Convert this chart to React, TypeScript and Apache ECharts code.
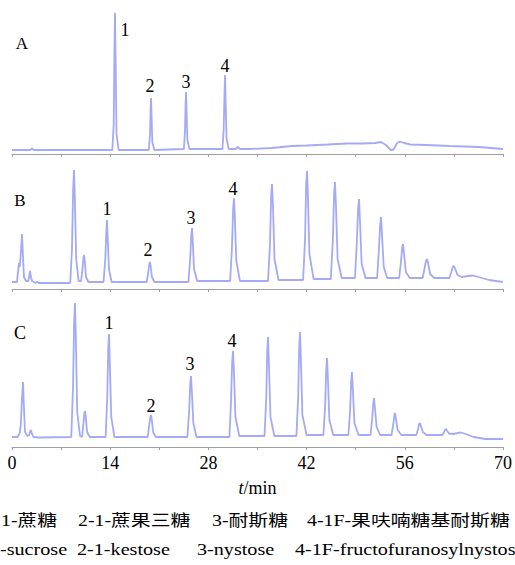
import React, { useEffect, useRef } from 'react';
import * as echarts from 'echarts';

// Retention time (min) vs detector signal (arbitrary units)
const panelA: [number, number][] = [
  [0, 4], [2.6, 4], [2.85, 5.5], [3.1, 4], [14.3, 4], [14.5, 30], [14.6, 100], [14.68, 141], [14.78, 90], [14.9, 20], [15.2, 4],
  [19.5, 4], [19.68, 20], [19.76, 45], [19.82, 56], [19.9, 38], [20.0, 12], [20.3, 4],
  [24.5, 5], [24.66, 22], [24.75, 50], [24.81, 62], [24.89, 42], [25.0, 14], [25.3, 5],
  [30.0, 5], [30.18, 25], [30.3, 62], [30.37, 79], [30.45, 55], [30.58, 16], [30.9, 5],
  [31.9, 5], [32.2, 7], [32.5, 5],
  [33.9, 5], [37, 6], [39.9, 8], [42, 8.5], [45, 9.5], [47.8, 10.5], [50, 10.5], [51.8, 11], [52.6, 12], [53.3, 9], [54.0, 4],
  [54.4, 4.5], [54.9, 11], [55.3, 12.5], [55.9, 11], [56.8, 9.5], [59, 9], [62.4, 8], [66.6, 7], [70, 5],
];

const panelB: [number, number][] = [
  [0, 7], [0.7, 7], [0.9, 20], [1.0, 26], [1.1, 22], [1.25, 35], [1.43, 55], [1.55, 35], [1.7, 12], [2.0, 8],
  [2.35, 8], [2.5, 15], [2.57, 18], [2.65, 14], [2.85, 8], [3.4, 6], [3.6, 7.5], [3.8, 6],
  [8.3, 6], [8.55, 40], [8.72, 100], [8.84, 119], [8.96, 90], [9.15, 30], [9.5, 8],
  [9.85, 8], [10.05, 20], [10.18, 31], [10.27, 34], [10.38, 28], [10.55, 12], [10.9, 7],
  [13.05, 7], [13.3, 30], [13.45, 58], [13.54, 69], [13.64, 52], [13.82, 20], [14.2, 7],
  [19.2, 7], [19.42, 16], [19.57, 25], [19.67, 27], [19.77, 23], [19.95, 12], [20.3, 7],
  [25.15, 7], [25.4, 30], [25.56, 54], [25.66, 61], [25.77, 48], [25.95, 20], [26.4, 8],
  [31.1, 8], [31.35, 40], [31.53, 80], [31.65, 91], [31.77, 72], [31.98, 28], [32.5, 8],
  [36.5, 8], [36.78, 45], [36.95, 93], [37.07, 105], [37.2, 85], [37.42, 30], [38.0, 9],
  [41.5, 9], [41.78, 50], [41.94, 105], [42.06, 118], [42.18, 95], [42.4, 35], [43.0, 10],
  [45.45, 10], [45.75, 50], [45.92, 95], [46.05, 107], [46.18, 85], [46.42, 30], [47.0, 11],
  [48.9, 11], [49.15, 45], [49.34, 80], [49.47, 90], [49.6, 70], [49.85, 25], [50.4, 11],
  [52.05, 11], [52.3, 38], [52.48, 64], [52.61, 72], [52.74, 55], [53.0, 22], [53.5, 11],
  [55.2, 11], [55.45, 27], [55.62, 41], [55.75, 45], [55.88, 36], [56.15, 17], [56.7, 11],
  [58.55, 11], [58.8, 20], [59.02, 28], [59.17, 30], [59.32, 26], [59.6, 15], [60.2, 11],
  [62.35, 11], [62.6, 16], [62.85, 22], [63.02, 23], [63.2, 20], [63.5, 14], [64.1, 12],
  [65.0, 13], [65.7, 13.5], [66.5, 12], [68, 9], [70, 7],
];

const panelC: [number, number][] = [
  [0, 10], [0.8, 10], [1.1, 14], [1.25, 22], [1.4, 45], [1.57, 65], [1.7, 40], [1.85, 15], [2.2, 11],
  [2.45, 12], [2.6, 16], [2.7, 17], [2.8, 14], [3.05, 10], [3.8, 9.5],
  [8.45, 10], [8.7, 60], [8.86, 125], [8.98, 144], [9.1, 110], [9.3, 35], [9.7, 11],
  [10.0, 10], [10.2, 25], [10.32, 34], [10.41, 36], [10.52, 30], [10.7, 15], [11.1, 10],
  [13.35, 10], [13.58, 50], [13.72, 98], [13.83, 113], [13.94, 85], [14.15, 30], [14.6, 10],
  [19.35, 10], [19.57, 22], [19.72, 30], [19.82, 32], [19.93, 27], [20.12, 15], [20.5, 10],
  [25.0, 10], [25.25, 35], [25.41, 63], [25.52, 71], [25.64, 56], [25.85, 24], [26.3, 10],
  [31.0, 10], [31.22, 45], [31.39, 85], [31.51, 96], [31.63, 78], [31.85, 30], [32.4, 11],
  [36.0, 11], [36.25, 50], [36.39, 96], [36.5, 110], [36.62, 85], [36.85, 30], [37.4, 11],
  [40.55, 11], [40.8, 50], [40.95, 100], [41.06, 115], [41.18, 90], [41.4, 32], [42.0, 12],
  [44.4, 12], [44.65, 42], [44.8, 78], [44.91, 89], [45.03, 70], [45.25, 27], [45.8, 12],
  [47.95, 12], [48.2, 36], [48.36, 66], [48.47, 75], [48.59, 58], [48.82, 24], [49.4, 12],
  [51.1, 12], [51.35, 28], [51.5, 43], [51.61, 49], [51.73, 40], [51.98, 20], [52.5, 12],
  [54.1, 12], [54.35, 22], [54.5, 31], [54.6, 34], [54.72, 29], [54.98, 17], [55.5, 12],
  [57.65, 12], [57.9, 18], [58.05, 23], [58.17, 24], [58.3, 21], [58.58, 15], [59.1, 12],
  [61.35, 12], [61.6, 15], [61.76, 17.5], [61.88, 18], [62.0, 16.5], [62.3, 13.5], [62.9, 13],
  [63.6, 14], [64.0, 14.5], [64.7, 13], [65.8, 10], [67.5, 8], [70, 8],
];

// Peak labels: [label, time, signal]
const peaksA: [string, number, number][] = [['1', 14.68, 141], ['2', 19.82, 56], ['3', 24.81, 62], ['4', 30.37, 79]];
const peaksB: [string, number, number][] = [['1', 13.54, 69], ['2', 19.67, 27], ['3', 25.66, 61], ['4', 31.65, 91]];
const peaksC: [string, number, number][] = [['1', 13.83, 113], ['2', 19.82, 32], ['3', 25.52, 71], ['4', 31.51, 96]];

const panelLetters = ['A', 'B', 'C'];
const tickLabels = [0, 14, 28, 42, 56, 70];
const captionCN = ['1-蔗糖', '2-1-蔗果三糖', '3-耐斯糖', '4-1F-果呋喃糖基耐斯糖'];
const captionEN = ['-sucrose', '2-1-kestose', '3-nystose', '4-1F-fructofuranosylnystos'];

const SERIF = 'Liberation Serif, Times New Roman, serif';
const CJK = 'Liberation Serif, Noto Sans CJK SC, serif';
const LINE = '#a5aaf6';
const AXIS = '#a0a0a0';

export default function App() {
  const ref = useRef<HTMLDivElement>(null);
  useEffect(() => {
    document.body.style.margin = '0';
    if (!ref.current) return;
    const chart = echarts.init(ref.current, undefined, { renderer: 'svg' });
    const panels = [panelA, panelB, panelC];
    const peaks = [peaksA, peaksB, peaksC];
    const offsets = [
      [[10, 17], [-1, -12], [0, -10], [0, -9]],
      [[0, -11], [-2, -12], [-1, -10], [-1, -9]],
      [[0, -11], [0, -9], [-1, -12], [-1, -10]],
    ];
    const tops = [4, 139, 297];
    const letterPos = [[22, 43, 17], [20, 200, 17], [20, 333, 18]];
    const cnX = [1, 78, 212, 307];
    const enX = [0, 77, 197, 295];

    const option: any = {
      animation: false,
      textStyle: { fontFamily: SERIF },
      grid: tops.map((t) => ({ left: 12, right: 12, top: t, height: 150 })),
      xAxis: tops.map((_, i) => ({
        type: 'value', gridIndex: i, min: 0, max: 70, interval: 7,
        axisLine: { show: true, lineStyle: { color: AXIS, width: 1 } },
        axisTick: { show: true, length: 3, lineStyle: { color: AXIS } },
        splitLine: { show: false },
        axisLabel: {
          show: i === 2, margin: 7, color: '#000', fontSize: 18, fontFamily: SERIF,
          formatter: (v: number) => (tickLabels.includes(v) ? String(v) : ''),
        },
        name: i === 2 ? '{i|t}/min' : '', nameLocation: 'middle', nameGap: 32,
        nameTextStyle: {
          color: '#000', fontSize: 18, fontFamily: SERIF,
          rich: { i: { fontStyle: 'italic', fontSize: 18, fontFamily: SERIF, color: '#000' } },
        },
      })),
      yAxis: tops.map((_, i) => ({ type: 'value', gridIndex: i, min: 0, max: 150, show: false })),
      series: panels.map((d, i) => ({
        type: 'line', xAxisIndex: i, yAxisIndex: i, data: d, symbol: 'none', showSymbol: false,
        lineStyle: { color: LINE, width: 1.8 }, silent: true,
        markPoint: {
          symbol: 'circle', symbolSize: 0, silent: true,
          label: { show: true, formatter: '{b}', color: '#000', fontSize: 18, fontFamily: SERIF },
          data: peaks[i].map((p, k) => ({ name: p[0], coord: [p[1], p[2]], label: { offset: offsets[i][k] } })),
        },
      })),
      graphic: [
        ...panelLetters.map((l, i) => ({
          type: 'text', x: letterPos[i][0], y: letterPos[i][1],
          style: { text: l, fontSize: letterPos[i][2], fontFamily: SERIF, fill: '#000', align: 'center', verticalAlign: 'middle' },
        })),
        ...captionCN.map((s, i) => ({
          type: 'text', x: cnX[i], y: 521, scaleX: 1.24,
          style: { text: s, fontSize: 16, fontFamily: CJK, fill: '#000', align: 'left', verticalAlign: 'middle' },
        })),
        ...captionEN.map((s, i) => ({
          type: 'text', x: enX[i], y: 550, scaleX: 1.26,
          style: { text: s, fontSize: 16, fontFamily: SERIF, fill: '#000', align: 'left', verticalAlign: 'middle' },
        })),
      ],
    };
    chart.setOption(option);
    return () => chart.dispose();
  }, []);
  return <div ref={ref} style={{ width: 515, height: 565 }} />;
}
